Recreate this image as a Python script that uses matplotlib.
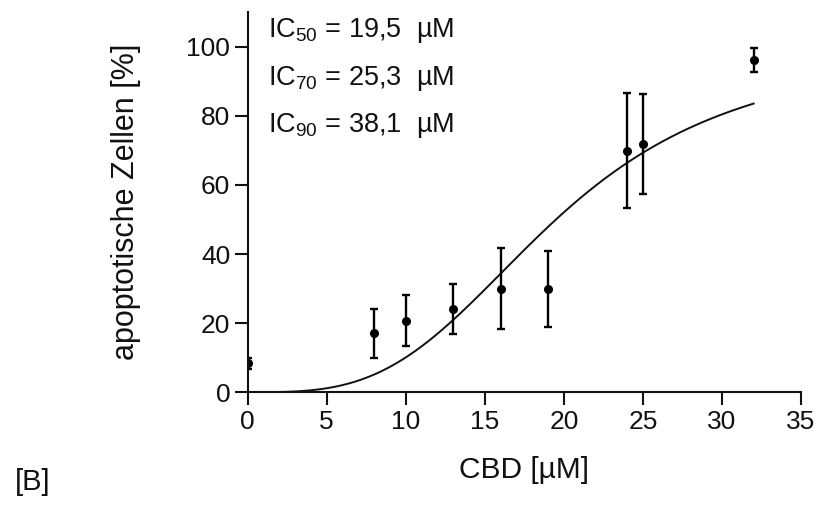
import numpy as np
import matplotlib
matplotlib.use("Agg")
import matplotlib.pyplot as plt

plt.rcParams['font.family'] = ['Liberation Sans', 'DejaVu Sans']
plt.rcParams['mathtext.fontset'] = 'custom'
plt.rcParams['mathtext.rm'] = 'Liberation Sans'
plt.rcParams['mathtext.it'] = 'Liberation Sans'

# Data
cbd = [0, 8, 10, 13, 16, 19, 24, 25, 32]
apoptosis = [8.4, 17.0, 20.7, 24.0, 30.0, 30.0, 69.9, 71.9, 96.1]
err = [1.6, 7.1, 7.3, 7.3, 11.8, 11.0, 16.7, 14.4, 3.4]

ic50 = 19.5
ic70 = 25.3
ic90 = 38.1
ic_labels = ["50", "70", "90"]
ic_values = ["19,5", "25,3", "38,1"]

# Hill fit from displayed IC50 / IC90
hill = np.log(9) / np.log(ic90 / ic50)
xc = np.linspace(0, 32, 300)
yc = 100 * xc**hill / (ic50**hill + xc**hill)

fig = plt.figure(figsize=(8.31, 5.08), dpi=100)
ax = fig.add_axes([0.298, 0.228, 0.666, 0.748])

ax.plot(xc, yc, color='#111111', lw=1.4)
ax.errorbar(cbd, apoptosis, yerr=err, fmt='o', color='black', ms=5.5,
            elinewidth=1.7, capsize=2.8, capthick=1.7)

ax.set_xlim(0, 35)
ax.set_ylim(0, 110)
ax.set_xticks(range(0, 36, 5))
ax.set_yticks(range(0, 101, 20))
for s in ['top', 'right']:
    ax.spines[s].set_visible(False)
for s in ['left', 'bottom']:
    ax.spines[s].set_linewidth(1.5)
    ax.spines[s].set_color('#111111')
ax.tick_params(direction='out', length=9.5, width=1.5, labelsize=19,
               colors='#111111', pad=3)

ax.set_xlabel("CBD [µM]", fontsize=21.5, labelpad=16, color='#111111')
ax.set_ylabel("apoptotische Zellen [%]", fontsize=22, labelpad=33, color='#111111')

ys = [104.6, 90.8, 77.2]
for lab, val, yy in zip(ic_labels, ic_values, ys):
    ax.text(1.3, yy, r"IC$_{\mathrm{%s}}$ = %s  µM" % (lab, val), fontsize=19.5,
            va='center', ha='left', color='#111111')

fig.text(0.018, 0.035, "[B]", fontsize=21, color='#111111')

fig.savefig("out.png", dpi=100)
